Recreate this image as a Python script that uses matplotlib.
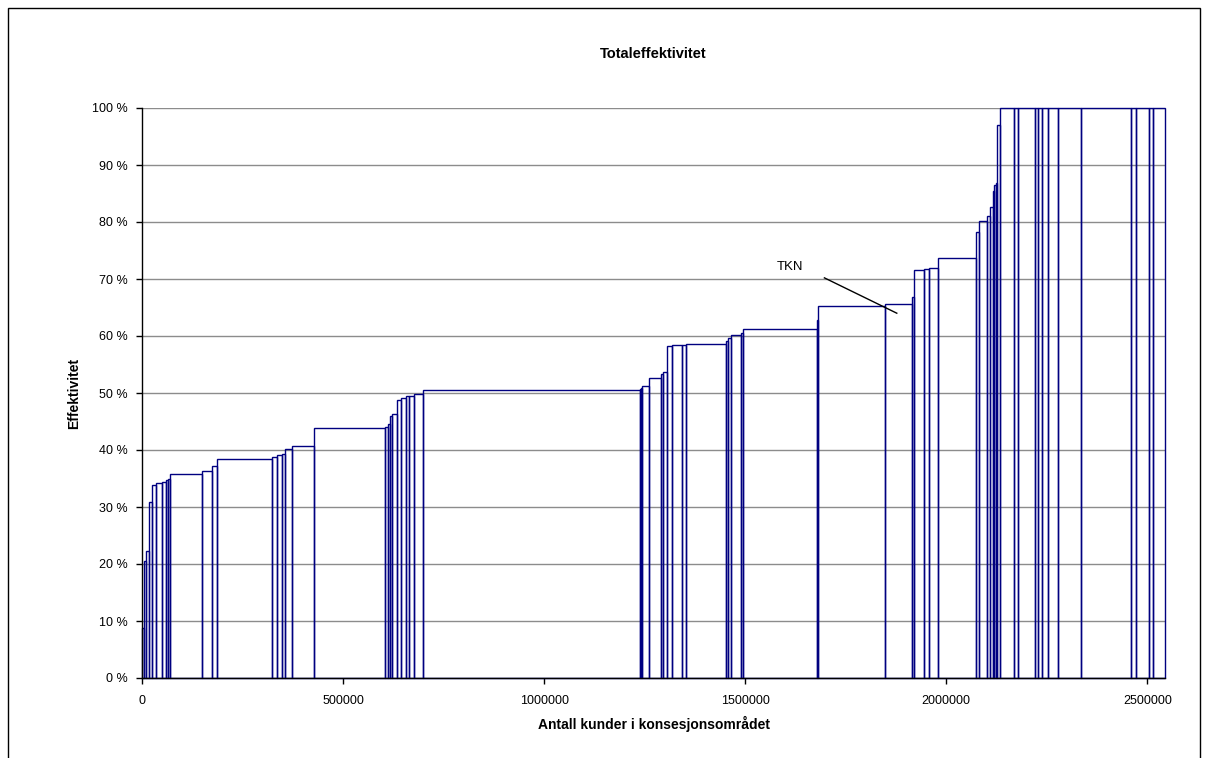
import numpy as np
import matplotlib
matplotlib.use("Agg")
import matplotlib.pyplot as plt
from matplotlib.patches import Rectangle
from matplotlib.ticker import FuncFormatter

plt.rcParams['font.family'] = ['Liberation Sans', 'DejaVu Sans']

# antall kunder per selskap (bredde på søylen), sortert etter effektivitet
kunder = [5800, 5000, 5800, 8300, 10700, 14100, 10800, 5000, 3300, 79600,
          25700, 11900, 138100, 12500, 11600, 8300, 15700, 55600, 177400, 5800,
          5800, 5000, 11600, 11600, 11600, 8300, 11600, 23200, 538100, 3200,
          3500, 15700, 29800, 5800, 10800, 10800, 24900, 10700, 98800, 5000,
          8300, 25700, 2700, 183900, 3100, 166800, 66400, 6600, 24900, 12400,
          20700, 94700, 7500, 19900, 8300, 6600, 4100, 4100, 3300, 6700,
          35600, 8300, 42300, 9100, 8300, 14900, 25800, 56400, 124400, 12500,
          33900, 10000, 29000]

# totaleffektivitet i prosent
effektivitet = [8.7, 20.5, 22.2, 30.9, 33.9, 34.2, 34.3, 34.7, 35.0, 35.8,
                36.4, 37.2, 38.5, 38.7, 39.2, 39.3, 40.1, 40.7, 43.8, 44.0,
                44.6, 46.0, 46.4, 48.7, 49.2, 49.4, 49.5, 49.8, 50.6, 50.7,
                50.9, 51.2, 52.7, 53.3, 53.7, 58.2, 58.4, 58.5, 58.6, 59.1,
                59.7, 60.1, 60.6, 61.2, 62.8, 65.2, 65.6, 66.8, 71.6, 71.8,
                72.0, 73.7, 78.3, 80.2, 81.1, 82.7, 85.5, 86.5, 86.8, 97.0,
                100, 100, 100, 100, 100, 100, 100, 100, 100, 100,
                100, 100, 100]

x_ticks = [0, 500000, 1000000, 1500000, 2000000, 2500000]
y_ticks = [0, 10, 20, 30, 40, 50, 60, 70, 80, 90, 100]

# TKN-markering (kunder, effektivitet)
tkn_tekst = (1611000, 72.1)
tkn_linje_fra = (1697000, 70.2)
tkn_linje_til = (1877000, 64.0)

kunder = np.array(kunder)
venstre = np.concatenate([[0], np.cumsum(kunder)[:-1]])
total = kunder.sum()

fig = plt.figure(figsize=(12.08, 7.58), dpi=100)
ax = fig.add_axes([142 / 1208, 1 - 678 / 758, (1165 - 142) / 1208, (678 - 108) / 758])

ax.bar(venstre, effektivitet, width=kunder, align='edge', fill=False,
       edgecolor='#000080', linewidth=1.0, clip_on=False, zorder=3)

ax.set_xlim(0, total)
ax.set_ylim(0, 100)
ax.set_xticks(x_ticks)
ax.set_yticks(y_ticks)
ax.xaxis.set_major_formatter(FuncFormatter(lambda v, p: f"{int(v)}"))
ax.yaxis.set_major_formatter(FuncFormatter(lambda v, p: f"{int(v)} %"))
ax.tick_params(direction='out', length=4, width=1, labelsize=9, color='black')
ax.tick_params(axis='y', pad=6)
ax.tick_params(axis='x', pad=8)

ax.yaxis.grid(True, color='#8c8c8c', linewidth=1)
ax.set_axisbelow(True)
for s in ['top', 'right']:
    ax.spines[s].set_visible(False)
for s in ['left', 'bottom']:
    ax.spines[s].set_linewidth(1)
    ax.spines[s].set_zorder(4)

ax.set_title('Totaleffektivitet', fontsize=10.5, fontweight='bold', pad=0, y=1 + 50 / 570)
ax.set_xlabel('Antall kunder i konsesjonsområdet', fontsize=10, fontweight='bold', labelpad=7)
ax.set_ylabel('Effektivitet', fontsize=10, fontweight='bold', labelpad=8)

ax.text(tkn_tekst[0], tkn_tekst[1], 'TKN', fontsize=9.5, ha='center', va='center')
ax.plot([tkn_linje_fra[0], tkn_linje_til[0]], [tkn_linje_fra[1], tkn_linje_til[1]],
        color='black', linewidth=1, zorder=5)

# ramme rundt hele diagrammet
fig.patches.append(Rectangle((8 / 1208, -0.1), (1200 - 8) / 1208, 1.1 - 8 / 758,
                             transform=fig.transFigure, fill=False,
                             edgecolor='black', linewidth=1))

plt.savefig('out.png', dpi=100)
